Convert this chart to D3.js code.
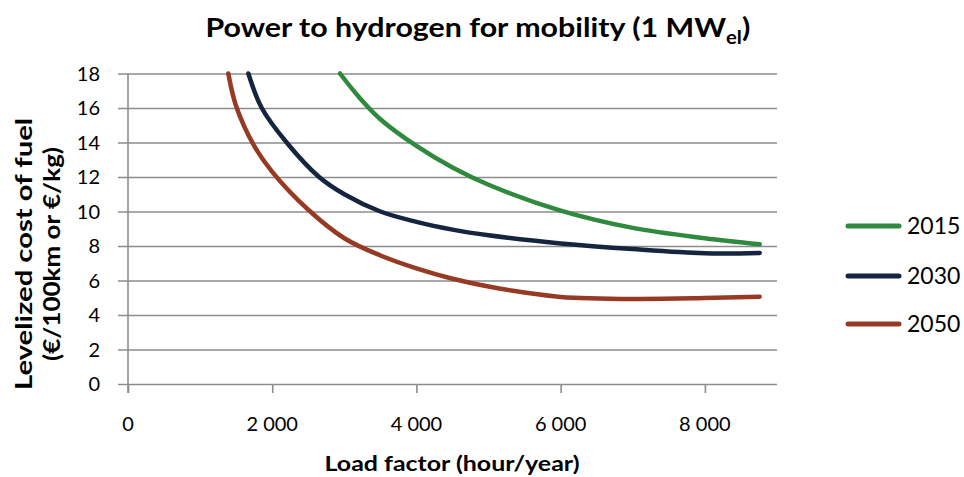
<!DOCTYPE html>
<html>
<head>
<meta charset="utf-8">
<script src="https://cdn.jsdelivr.net/npm/d3@7"></script>
<style>
  html, body { margin: 0; padding: 0; background: #fff; }
  svg { display: block; font-family: Lato, "Open Sans", sans-serif; }
</style>
</head>
<body>
<svg id="chart" width="964" height="477"></svg>
<script>
// ---- data ----
const seriesNames = ["2015", "2030", "2050"];
const seriesColors = ["#2f8a3f", "#15253f", "#973a24"];
const hours2015 = [2940, 3200, 3500, 4000, 4500, 5000, 6000, 7000, 8000, 8760];
const cost2015  = [18,   16.65, 15.35, 13.8, 12.55, 11.55, 10.05, 9.05, 8.45, 8.1];
const hours2030 = [1669, 1855, 2200, 2650, 3000, 3500, 4000, 4500, 5000, 6000, 7000, 8000, 8760];
const cost2030  = [18,   16,   14,   12,   11.0, 10.0, 9.4,  8.95, 8.62, 8.15, 7.82, 7.58, 7.6];
const hours2050 = [1391, 1500, 1750, 2000, 2500, 3000, 3500, 4000, 4500, 5000, 5500, 6000, 7000, 8000, 8760];
const cost2050  = [18,   16.1, 13.8, 12.3, 10.1, 8.45, 7.45, 6.7,  6.1,  5.65, 5.3,  5.05, 4.93, 4.98, 5.06];
const xTicks = [0, 2000, 4000, 6000, 8000];
const yTicks = [0, 2, 4, 6, 8, 10, 12, 14, 16, 18];
const titleMain = "Power to hydrogen for mobility (1 MW";
const titleSub = "el";
const titleEnd = ")";
const xLabel = "Load factor (hour/year)";
const yLabel1 = "Levelized cost of fuel";
const yLabel2 = "(€/100km or €/kg)";

const series = [
  { name: seriesNames[0], color: seriesColors[0], pts: hours2015.map((h, i) => [h, cost2015[i]]) },
  { name: seriesNames[1], color: seriesColors[1], pts: hours2030.map((h, i) => [h, cost2030[i]]) },
  { name: seriesNames[2], color: seriesColors[2], pts: hours2050.map((h, i) => [h, cost2050[i]]) }
];

// ---- layout ----
const svg = d3.select("#chart");
const pLeft = 128, pRight = 777, pTop = 73.5, pBottom = 384;
const x = d3.scaleLinear().domain([0, 9000]).range([pLeft, pRight]);
const y = d3.scaleLinear().domain([0, 18]).range([pBottom, pTop]);
const gridColor = "#8c8c8c";

const loc = d3.formatLocale({ decimal: ",", thousands: "\u00a0", grouping: [3], currency: ["", ""] });
const fmt = loc.format(",d");

function fitWidth(sel, target) {
  sel.attr("textLength", target).attr("lengthAdjust", "spacingAndGlyphs");
}

// gridlines + y ticks
const yAxis = d3.axisLeft(y).tickValues(yTicks).tickSize(-(pRight - pLeft)).tickFormat("");
const gy = svg.append("g").attr("transform", `translate(${pLeft},0)`).call(yAxis);
gy.select(".domain").remove();
gy.selectAll(".tick line").attr("stroke", gridColor).attr("stroke-width", 1.6).attr("x1", -10);

// y axis vertical line
svg.append("line").attr("x1", pLeft).attr("x2", pLeft).attr("y1", pTop).attr("y2", pBottom + 9)
  .attr("stroke", gridColor).attr("stroke-width", 1.6);

// y tick labels
svg.append("g").selectAll("text").data(yTicks).join("text")
  .attr("x", 100).attr("y", d => y(d)).attr("dy", "0.36em")
  .attr("text-anchor", "end").attr("font-size", 20).attr("fill", "#000")
  .text(d => d);

// x axis ticks
const xAxis = d3.axisBottom(x).tickValues(xTicks).tickSize(9).tickFormat("");
const gx = svg.append("g").attr("transform", `translate(0,${pBottom})`).call(xAxis);
gx.select(".domain").remove();
gx.selectAll(".tick line").attr("stroke", gridColor).attr("stroke-width", 1.6);

svg.append("g").selectAll("text").data(xTicks).join("text")
  .attr("x", d => x(d)).attr("y", 431)
  .attr("text-anchor", "middle").attr("font-size", 20).attr("fill", "#000")
  .text(d => fmt(d));

// lines
const line = d3.line().x(d => x(d[0])).y(d => y(d[1])).curve(d3.curveCatmullRom.alpha(0.5));
svg.append("g").selectAll("path").data(series).join("path")
  .attr("d", d => line(d.pts))
  .attr("fill", "none").attr("stroke", d => d.color)
  .attr("stroke-width", 4.5).attr("stroke-linecap", "round").attr("stroke-linejoin", "round");

// legend
const legY = [226, 276, 324];
const leg = svg.append("g").selectAll("g").data(series).join("g")
  .attr("transform", (d, i) => `translate(0,${legY[i]})`);
leg.append("line").attr("x1", 848).attr("x2", 899).attr("y1", 0).attr("y2", 0)
  .attr("stroke", d => d.color).attr("stroke-width", 5).attr("stroke-linecap", "round");
leg.append("text").attr("x", 907).attr("y", 0).attr("dy", "0.36em")
  .attr("font-size", 23).attr("fill", "#000").text(d => d.name);

// title (stretched horizontally to the reference width)
const tg = svg.append("g");
const t = tg.append("text").attr("x", 0).attr("y", 0).attr("text-anchor", "start")
  .attr("font-size", 27).attr("font-weight", "bold").attr("fill", "#000");
t.append("tspan").text(titleMain);
t.append("tspan").attr("font-size", 18).attr("dy", 7).text(titleSub);
t.append("tspan").attr("dy", -7).text(titleEnd);
const tw = t.node().getBBox().width;
const tTarget = 545;
tg.attr("transform", `translate(${478 - tTarget / 2},37) scale(${tTarget / tw},1)`);

// axis titles
const xl = svg.append("text").attr("x", 452).attr("y", 471).attr("text-anchor", "middle")
  .attr("font-size", 21).attr("font-weight", "bold").attr("fill", "#000").text(xLabel);
fitWidth(xl, 255);

const yl = svg.append("g").attr("transform", "translate(0,254) rotate(-90)");
const yl1 = yl.append("text").attr("x", 0).attr("y", 32).attr("text-anchor", "middle")
  .attr("font-size", 22).attr("font-weight", "bold").attr("fill", "#000").text(yLabel1);
fitWidth(yl1, 272);
const yl2 = yl.append("text").attr("x", 0).attr("y", 60).attr("text-anchor", "middle")
  .attr("font-size", 22).attr("font-weight", "bold").attr("fill", "#000").text(yLabel2);
fitWidth(yl2, 214);
</script>
</body>
</html>
